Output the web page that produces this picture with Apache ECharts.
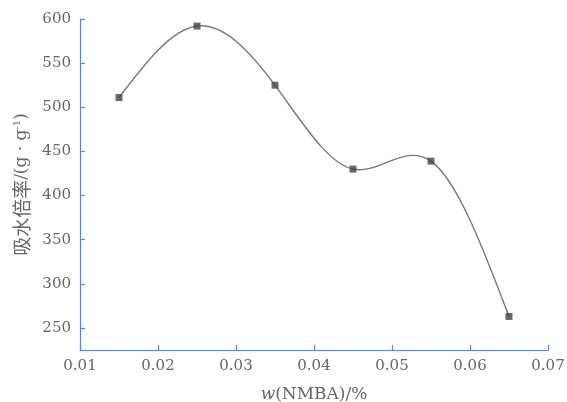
<!DOCTYPE html>
<html>
<head>
	<meta charset="utf-8">
	<title></title>
	<script src="https://cdn.jsdelivr.net/npm/echarts@6/dist/echarts.min.js"></script>
	<style>
		html,body{margin:0;padding:0;background:#fff;}
		#chart{width:567px;height:402px;}
	</style>
</head>
<body>
	<div id="chart"></div>
</body>
<script type="text/javascript">
	// w(NMBA) in %, water absorption in g/g
	var wValues=[0.015,0.025,0.035,0.045,0.055,0.065];
	var absorbValues=[511,592,525,430,439,263];
	var yTicks=[250,300,350,400,450,500,550,600];

	var axisBlue='#5a86d8';
	var textGray='#666';
	var serif='"DejaVu Serif","Liberation Serif",serif';

	var points=[];
	for(let i in wValues){
		points.push([wValues[i],absorbValues[i]]);
	}

	// slopes of a natural cubic spline through the points (data space)
	function splineSlopes(xs,ys){
		let n=xs.length,h=[],d=[];
		for(let i=0;i<n-1;i++){
			h.push(xs[i+1]-xs[i]);
			d.push((ys[i+1]-ys[i])/h[i]);
		}
		let a=[],b=[],c=[],r=[];
		a[0]=0;b[0]=2;c[0]=1;r[0]=3*d[0];
		for(let i=1;i<n-1;i++){
			a[i]=h[i];b[i]=2*(h[i-1]+h[i]);c[i]=h[i-1];
			r[i]=3*(h[i]*d[i-1]+h[i-1]*d[i]);
		}
		a[n-1]=1;b[n-1]=2;c[n-1]=0;r[n-1]=3*d[n-2];
		for(let i=1;i<n;i++){
			let m=a[i]/b[i-1];
			b[i]-=m*c[i-1];
			r[i]-=m*r[i-1];
		}
		let s=[];
		s[n-1]=r[n-1]/b[n-1];
		for(let i=n-2;i>=0;i--){
			s[i]=(r[i]-c[i]*s[i+1])/b[i];
		}
		return s;
	}
	var slopes=splineSlopes(wValues,absorbValues);

	function renderSegment(params,api){
		let i=params.dataIndex;
		if(i>=wValues.length-1)return null;
		let h=wValues[i+1]-wValues[i];
		let p0=api.coord([wValues[i],absorbValues[i]]);
		let p1=api.coord([wValues[i]+h/3,absorbValues[i]+slopes[i]*h/3]);
		let p2=api.coord([wValues[i+1]-h/3,absorbValues[i+1]-slopes[i+1]*h/3]);
		let p3=api.coord([wValues[i+1],absorbValues[i+1]]);
		return {
			type:'bezierCurve',
			shape:{x1:p0[0],y1:p0[1],cpx1:p1[0],cpy1:p1[1],cpx2:p2[0],cpy2:p2[1],x2:p3[0],y2:p3[1]},
			style:{stroke:'#777',lineWidth:1.4,fill:null}
		};
	}

	var myChart=echarts.init(document.getElementById('chart'),null,{renderer:'canvas'});
	var option={
		animation:false,
		grid:{
			left:80,
			right:19,
			top:19,
			bottom:52,
			containLabel:false,
			outerBoundsMode:'none'
		},
		xAxis:{
			type:'value',
			min:0.01,
			max:0.07,
			interval:0.01,
			name:'{i|w}(NMBA)/%',
			nameLocation:'middle',
			nameGap:36,
			nameTextStyle:{
				color:textGray,
				fontFamily:serif,
				fontSize:17,
				rich:{
					i:{fontStyle:'italic',fontFamily:serif,fontSize:17,color:textGray}
				}
			},
			axisLine:{lineStyle:{color:axisBlue,width:1.2}},
			axisTick:{inside:true,length:5,lineStyle:{color:axisBlue,width:1.2}},
			axisLabel:{
				color:textGray,
				fontFamily:serif,
				fontSize:15,
				margin:9,
				formatter:function(v){return v.toFixed(2);}
			},
			splitLine:{show:false}
		},
		yAxis:{
			type:'value',
			min:225,
			max:600,
			name:'吸水倍率{s|/(g · g}{sup|-1}{s|)}',
			nameLocation:'middle',
			nameGap:48,
			nameRotate:90,
			nameTextStyle:{
				color:textGray,
				fontFamily:'"Noto Sans CJK SC",sans-serif',
				fontSize:19,
				rich:{
					s:{fontSize:17,fontFamily:serif,color:textGray},
					sup:{fontSize:10,verticalAlign:'top',color:textGray,fontFamily:serif,padding:[0,0,7,0]}
				}
			},
			axisLine:{show:true,lineStyle:{color:axisBlue,width:1.2}},
			axisTick:{show:true,inside:true,length:5,customValues:yTicks,lineStyle:{color:axisBlue,width:1.2}},
			axisLabel:{
				color:textGray,
				fontFamily:serif,
				fontSize:15,
				margin:9,
				customValues:yTicks
			},
			splitLine:{show:false}
		},
		series:[{
			type:'custom',
			data:points,
			encode:{x:0,y:1},
			renderItem:renderSegment,
			z:1
		},{
			type:'scatter',
			data:points,
			symbol:'rect',
			symbolSize:7,
			itemStyle:{color:'#444'},
			z:2
		}]
	};
	myChart.setOption(option);

	window.addEventListener('resize',()=>{
		myChart.resize();
	});
</script>
</html>
